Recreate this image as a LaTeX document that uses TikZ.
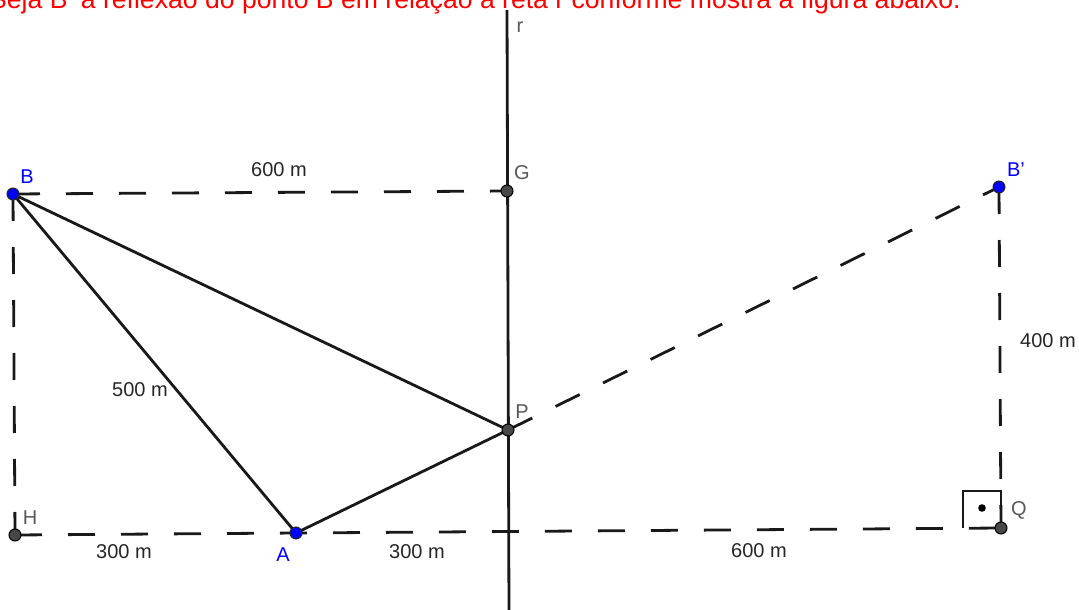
\documentclass[tikz,border=0pt]{standalone}
\usepackage{fontspec}
\setmainfont{Liberation Sans}
\begin{document}
\begin{tikzpicture}[x=1pt,y=-1pt,
  solidline/.style={line width=2.8pt, black!90},
  dashline/.style={line width=2.8pt, black!90, dash pattern=on 27pt off 26pt},
  gpt/.style={circle, fill=black!72, draw=black, line width=1pt, inner sep=0pt, minimum size=12pt},
  bpt/.style={circle, fill=blue, draw=black!85, line width=1pt, inner sep=0pt, minimum size=12pt},
  lbl/.style={font=\fontsize{20}{20}\selectfont, text=black!65, inner sep=0pt},
  blbl/.style={font=\fontsize{20}{20}\selectfont, text=blue, inner sep=0pt},
  mlbl/.style={font=\fontsize{20}{20}\selectfont, text=black!85, inner sep=0pt}]
\useasboundingbox (0,0) rectangle (1079,610);
\fill[white] (0,0) rectangle (1079,610);
% title (cut at top)
\node[anchor=base west, inner sep=0pt, text=red, font=\fontsize{26.6}{26.6}\selectfont] (title) at (-11,8.5) {Seja B' a reflexão do ponto B em relação à reta r conforme mostra a figura abaixo.};
% reta r
\coordinate (rtop) at (507,10);
\coordinate (rbot) at (509,615);
\draw[solidline] (rtop) -- (rbot);
% points coordinates
\coordinate (B) at (13,194);
\coordinate (G) at (507,191);
\coordinate (Bp) at (999,187);
\coordinate (P) at (508,430);
\coordinate (H) at (15,535);
\coordinate (A) at (296,533);
\coordinate (Q) at (1001,528);
% dashed lines
\draw[dashline] (B) -- (G);
\draw[dashline] (B) -- (H);
\draw[dashline] (H) -- (Q);
\draw[dashline] (P) -- (Bp);
\draw[dashline] (Bp) -- (Q);
% solid triangle
\draw[solidline] (B) -- (A) -- (P) -- cycle;
% right angle mark
\draw[line width=2.6pt, black!90] (963,528) -- (963,491) -- (1001,491) -- (1001,528);
\fill[black] (982,508) circle (3.8pt);
% points
\node[bpt] (nB) at (B) {};
\node[gpt] (nG) at (G) {};
\node[bpt] (nBp) at (Bp) {};
\node[gpt] (nP) at (P) {};
\node[gpt] (nH) at (H) {};
\node[bpt] (nA) at (A) {};
\node[gpt] (nQ) at (Q) {};
% labels
\node[lbl] (lr) at (520,27) {r};
\node[blbl] (lB) at (27,177) {B};
\node[lbl] (lG) at (522,173) {G};
\node[blbl] (lBp) at (1016,170) {B'};
\node[lbl] (lP) at (522,412) {P};
\node[lbl] (lH) at (30,518) {H};
\node[lbl] (lQ) at (1019,510) {Q};
\node[blbl] (lA) at (283,555) {A};
\node[mlbl] (m1) at (279,170) {600 m};
\node[mlbl] (m2) at (1048,341) {400 m};
\node[mlbl] (m3) at (140,390) {500 m};
\node[mlbl] (m4) at (124,552) {300 m};
\node[mlbl] (m5) at (417,552) {300 m};
\node[mlbl] (m6) at (759,551) {600 m};
\end{tikzpicture}
\end{document}
